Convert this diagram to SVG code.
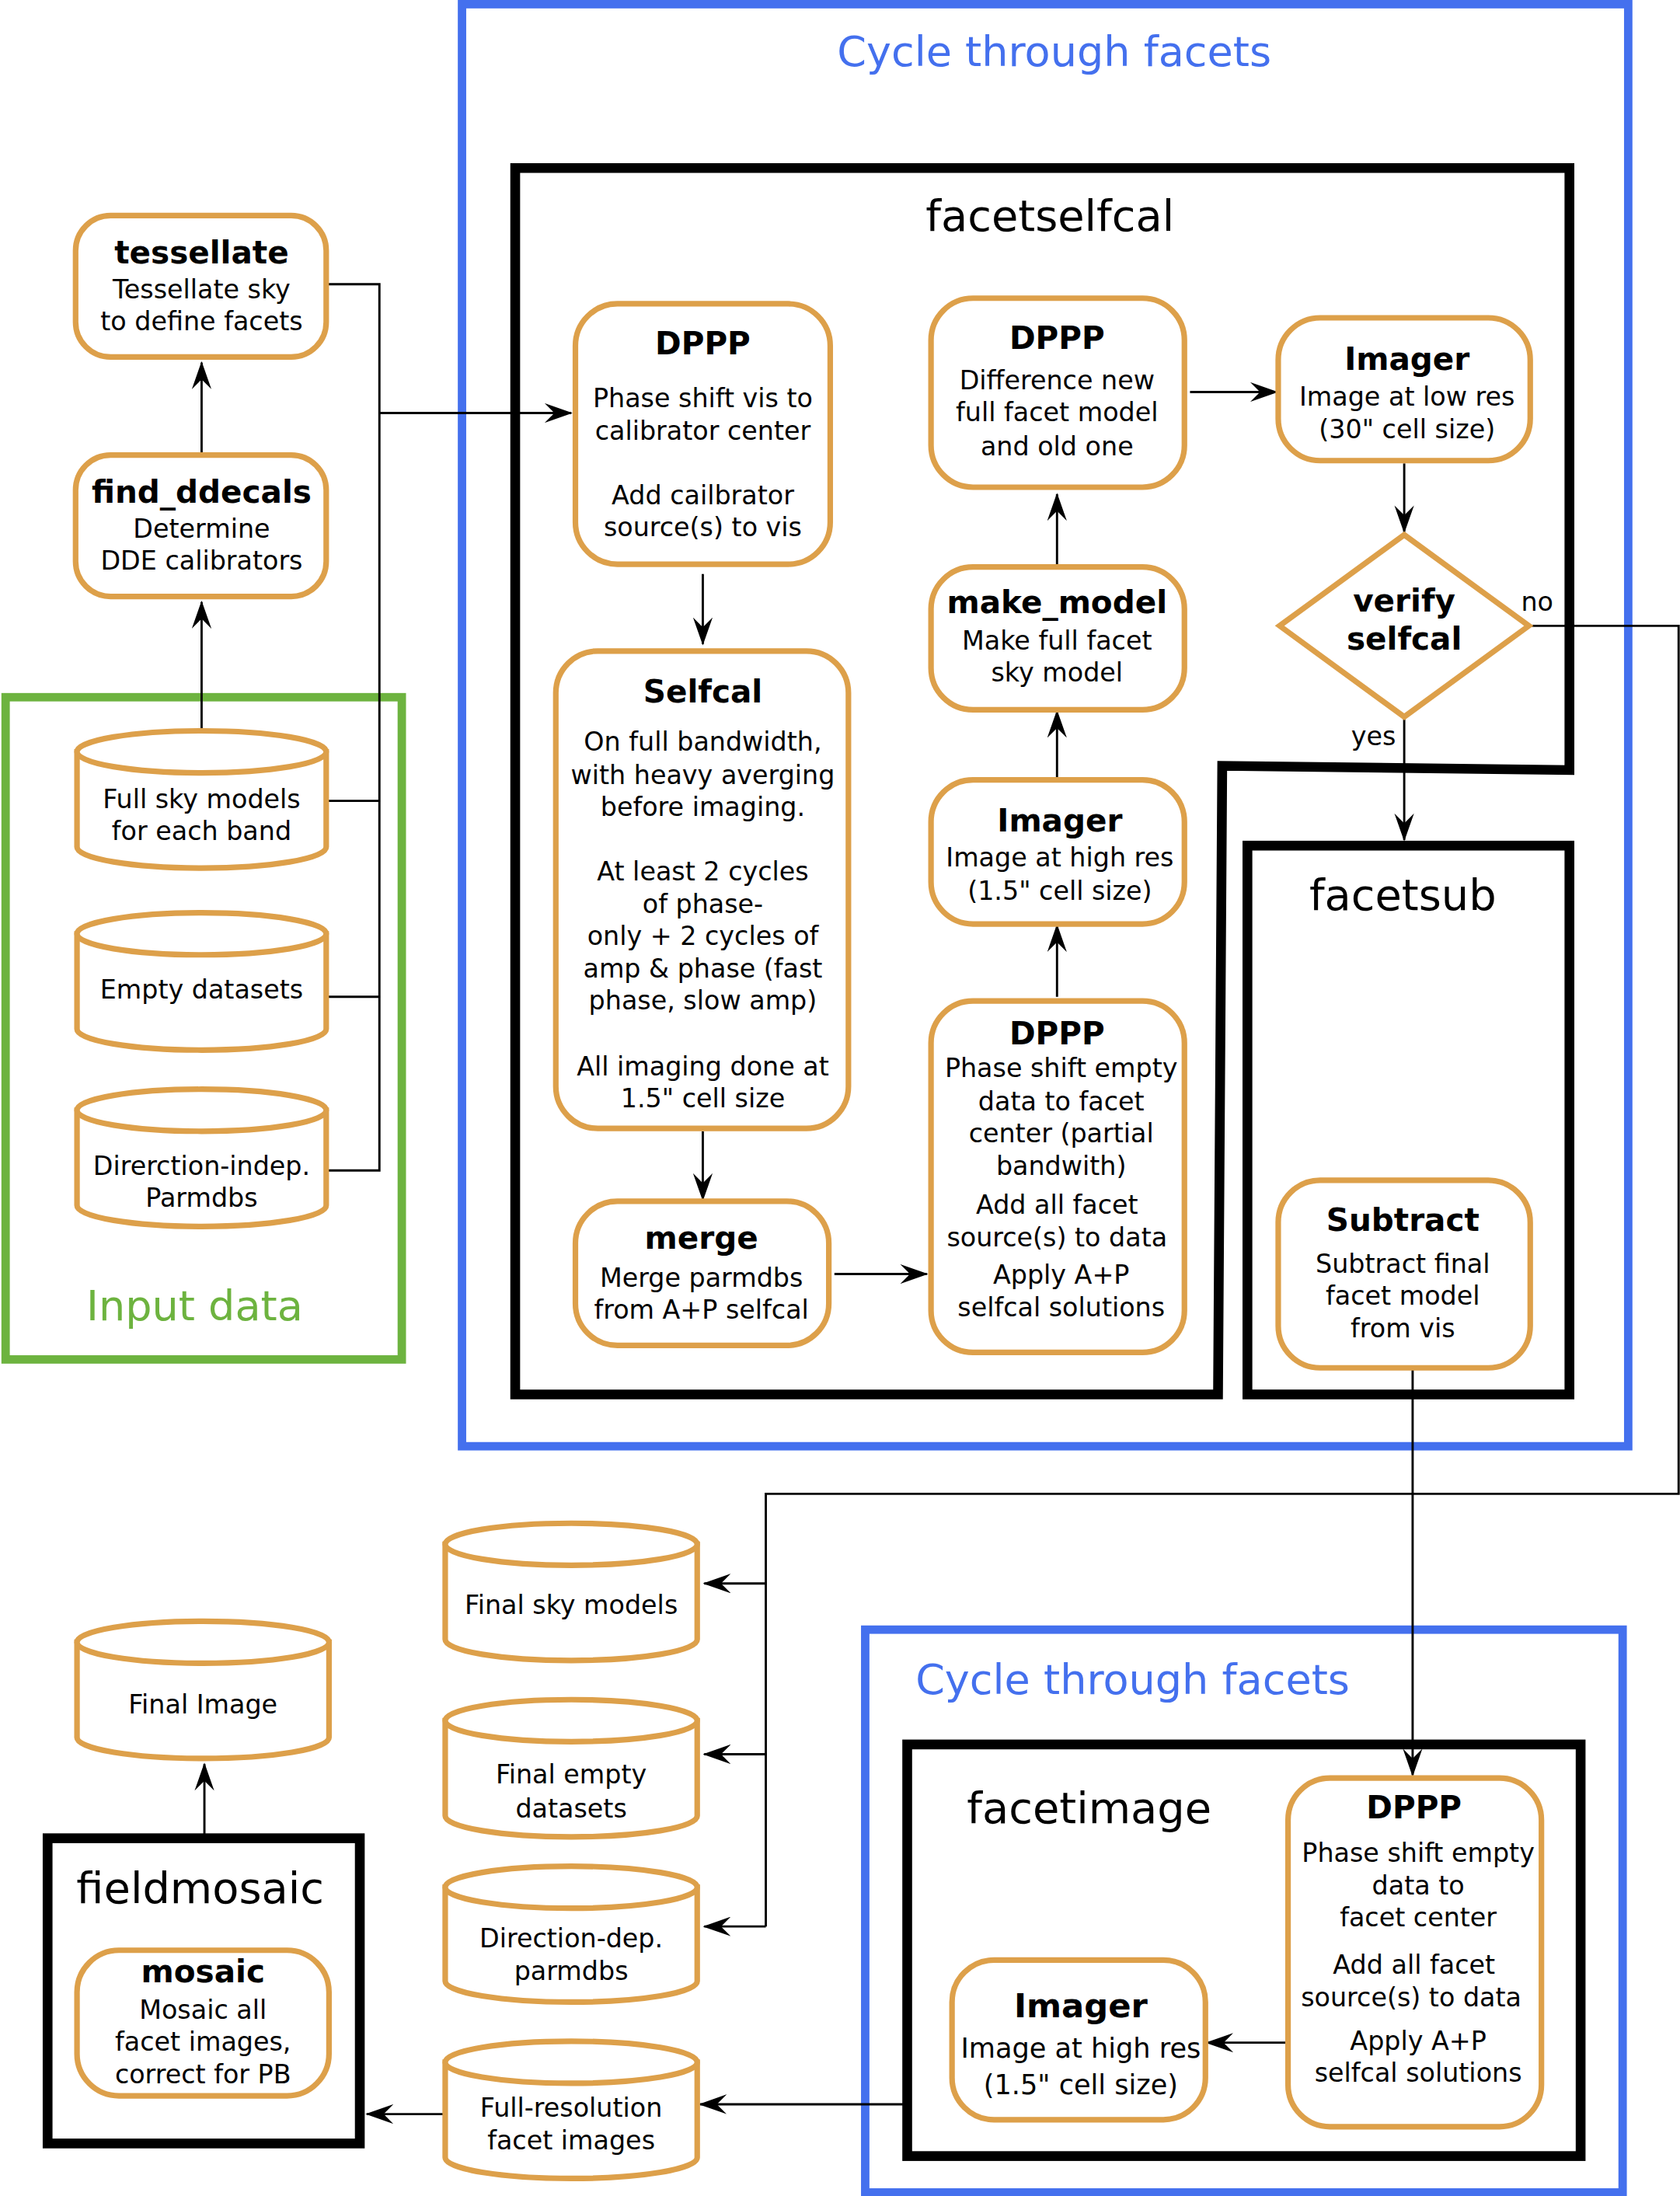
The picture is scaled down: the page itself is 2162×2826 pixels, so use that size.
<svg xmlns="http://www.w3.org/2000/svg" width="2162" height="2826" viewBox="0 0 2162 2826">
<defs>
<style>
text{font-family:"DejaVu Sans","Liberation Sans",sans-serif;text-anchor:middle;fill:#000}
.b{font-size:18.5px}
.t{font-size:22.5px;font-weight:bold}
.n{fill:#fff;stroke:#DDA04A;stroke-width:4}
.k{fill:none;stroke:#000;stroke-width:7}
.bl{fill:none;stroke:#4470EE;stroke-width:6}
.l{fill:none;stroke:#000;stroke-width:1.6}
.a{fill:none;stroke:#000;stroke-width:1.6;marker-end:url(#ar)}
.h{font-size:31px}
</style>
<marker id="ar" viewBox="0 0 20 14" refX="19" refY="7" markerWidth="20" markerHeight="14" markerUnits="userSpaceOnUse" orient="auto"><path d="M0,0 L20,7 L0,14 L7,7 z" fill="#000"/></marker>
</defs>
<rect width="2162" height="2826" fill="#fff"/>
<g transform="scale(1.8017)">
<g id="frames">
<rect class="bl" x="330" y="3" width="833" height="1030"/>
<text x="753" y="47" style="font-size:30px;fill:#4470EE">Cycle through facets</text>
<path class="k" d="M368,120 L1121,120 L1121,550 L873,547 L870,996 L368,996 Z"/>
<text x="750" y="165" class="h">facetselfcal</text>
<rect class="k" x="891" y="604" width="230" height="392"/>
<text x="1002" y="650" class="h">facetsub</text>
<rect x="4" y="498" width="283" height="473" fill="none" stroke="#6DB33F" stroke-width="6"/>
<text x="139" y="943" style="font-size:30px;fill:#6DB33F">Input data</text>
<rect class="bl" x="618" y="1164" width="541" height="402"/>
<text x="809" y="1210" style="font-size:30px;fill:#4470EE">Cycle through facets</text>
<rect class="k" x="648" y="1246" width="481" height="294"/>
<text x="778" y="1302" class="h">facetimage</text>
<rect class="k" x="34" y="1313" width="223" height="218"/>
<text x="143" y="1359" class="h">fieldmosaic</text>
</g>
<g id="connectors">
<path class="l" d="M233,203 H271 V836 H233 M233,572 H271 M233,712 H271"/>
<path class="a" d="M271,295 H408"/>
<path class="a" d="M144,522 V430"/>
<path class="a" d="M144,325 V259"/>
<path class="a" d="M502,410 V460"/>
<path class="a" d="M502,808 V857"/>
<path class="a" d="M596,910 H662"/>
<path class="a" d="M755,712 V661"/>
<path class="a" d="M755,557 V508"/>
<path class="a" d="M755,405 V353"/>
<path class="a" d="M850,280 H912"/>
<path class="a" d="M1003,331 V380"/>
<path class="a" d="M1003,512 V600"/>
<path class="l" d="M1092,447 H1199 V1067 H547 V1376"/>
<path class="a" d="M547,1131 H503"/>
<path class="a" d="M547,1253 H503"/>
<path class="a" d="M547,1376 H503"/>
<path class="a" d="M1009,977 V1268"/>
<path class="a" d="M920,1459 H862"/>
<path class="a" d="M648,1503 H500"/>
<path class="a" d="M318,1510 H262"/>
<path class="a" d="M146,1310 V1260"/>
<text x="1098" y="436" class="b">no</text>
<text x="981" y="532" class="b">yes</text>
</g>
<g id="tessellate"><rect class="n" x="54" y="154" width="179" height="101" rx="25"/><text x="144" y="188" class="t">tessellate</text><text x="144" y="213" class="b">Tessellate sky</text><text x="144" y="236" class="b">to define facets</text></g>
<g id="find_ddecals"><rect class="n" x="54" y="325" width="179" height="101" rx="25"/><text x="144" y="359" class="t">find_ddecals</text><text x="144" y="384" class="b">Determine</text><text x="144" y="407" class="b">DDE calibrators</text></g>
<g id="cyl1"><path class="n" d="M55,537 V605 A89,15 0 0 0 233,605 V537 Z"/><ellipse class="n" cx="144" cy="537" rx="89" ry="15"/><text x="144" y="577" class="b">Full sky models</text><text x="144" y="600" class="b">for each band</text></g>
<g id="cyl2"><path class="n" d="M55,667 V735 A89,15 0 0 0 233,735 V667 Z"/><ellipse class="n" cx="144" cy="667" rx="89" ry="15"/><text x="144" y="713" class="b">Empty datasets</text></g>
<g id="cyl3"><path class="n" d="M55,793 V861 A89,15 0 0 0 233,861 V793 Z"/><ellipse class="n" cx="144" cy="793" rx="89" ry="15"/><text x="144" y="839" class="b">Direrction-indep.</text><text x="144" y="862" class="b">Parmdbs</text></g>
<g id="dppp1"><rect class="n" x="411" y="217" width="182" height="186" rx="30"/><text x="502" y="253" class="t">DPPP</text><text x="502" y="291" class="b">Phase shift vis to</text><text x="502" y="314" class="b">calibrator center</text><text x="502" y="360" class="b">Add cailbrator</text><text x="502" y="383" class="b">source(s) to vis</text></g>
<g id="selfcal"><rect class="n" x="397" y="465" width="209" height="341" rx="30"/><text x="502" y="502" class="t">Selfcal</text><text x="502" y="536" class="b">On full bandwidth,</text><text x="502" y="560" class="b">with heavy averging</text><text x="502" y="583" class="b">before imaging.</text><text x="502" y="629" class="b">At least 2 cycles</text><text x="502" y="652" class="b">of phase-</text><text x="502" y="675" class="b">only + 2 cycles of</text><text x="502" y="698" class="b">amp &amp; phase (fast</text><text x="502" y="721" class="b">phase, slow amp)</text><text x="502" y="768" class="b">All imaging done at</text><text x="502" y="791" class="b">1.5" cell size</text></g>
<g id="merge"><rect class="n" x="411" y="858" width="181" height="103" rx="30"/><text x="501" y="892" class="t">merge</text><text x="501" y="919" class="b">Merge parmdbs</text><text x="501" y="942" class="b">from A+P selfcal</text></g>
<g id="dppp2"><rect class="n" x="665" y="715" width="181" height="251" rx="30"/><text x="755" y="746" class="t">DPPP</text><text x="758" y="769" class="b">Phase shift empty</text><text x="758" y="793" class="b">data to facet</text><text x="758" y="816" class="b">center (partial</text><text x="758" y="839" class="b">bandwith)</text><text x="755" y="867" class="b">Add all facet</text><text x="755" y="890" class="b">source(s) to data</text><text x="758" y="917" class="b">Apply A+P</text><text x="758" y="940" class="b">selfcal solutions</text></g>
<g id="imager_high"><rect class="n" x="665" y="557" width="181" height="103" rx="30"/><text x="757" y="594" class="t">Imager</text><text x="757" y="619" class="b">Image at high res</text><text x="757" y="643" class="b">(1.5" cell size)</text></g>
<g id="make_model"><rect class="n" x="665" y="405" width="181" height="102" rx="30"/><text x="755" y="438" class="t">make_model</text><text x="755" y="464" class="b">Make full facet</text><text x="755" y="487" class="b">sky model</text></g>
<g id="dppp3"><rect class="n" x="665" y="213" width="181" height="135" rx="30"/><text x="755" y="249" class="t">DPPP</text><text x="755" y="278" class="b">Difference new</text><text x="755" y="301" class="b">full facet model</text><text x="755" y="325" class="b">and old one</text></g>
<g id="imager_low"><rect class="n" x="913" y="227" width="180" height="102" rx="30"/><text x="1005" y="264" class="t">Imager</text><text x="1005" y="290" class="b">Image at low res</text><text x="1005" y="313" class="b">(30" cell size)</text></g>
<g id="verify"><path class="n" d="M1003,382 L1092,447 L1003,512 L914,447 Z"/><text x="1003" y="437" class="t">verify</text><text x="1003" y="464" class="t">selfcal</text></g>
<g id="subtract"><rect class="n" x="913" y="843" width="180" height="134" rx="30"/><text x="1002" y="879" class="t">Subtract</text><text x="1002" y="909" class="b">Subtract final</text><text x="1002" y="932" class="b">facet model</text><text x="1002" y="955" class="b">from vis</text></g>
<g id="dppp4"><rect class="n" x="920" y="1270" width="181" height="249" rx="30"/><text x="1010" y="1299" class="t">DPPP</text><text x="1013" y="1330" class="b">Phase shift empty</text><text x="1013" y="1353" class="b">data to</text><text x="1013" y="1376" class="b">facet center</text><text x="1010" y="1410" class="b">Add all facet</text><text x="1008" y="1433" class="b">source(s) to data</text><text x="1013" y="1464" class="b">Apply A+P</text><text x="1013" y="1487" class="b">selfcal solutions</text></g>
<g id="imager_final"><rect class="n" x="680" y="1400" width="181" height="114" rx="30"/><text x="772" y="1441" style="font-size:24px;font-weight:bold">Imager</text><text x="772" y="1470" style="font-size:19.5px">Image at high res</text><text x="772" y="1496" style="font-size:19.5px">(1.5" cell size)</text></g>
<g id="final_sky"><path class="n" d="M318,1103 V1171 A90,15 0 0 0 498,1171 V1103 Z"/><ellipse class="n" cx="408" cy="1103" rx="90" ry="15"/><text x="408" y="1153" class="b">Final sky models</text></g>
<g id="final_empty"><path class="n" d="M318,1229 V1297 A90,15 0 0 0 498,1297 V1229 Z"/><ellipse class="n" cx="408" cy="1229" rx="90" ry="15"/><text x="408" y="1274" class="b">Final empty</text><text x="408" y="1298" class="b">datasets</text></g>
<g id="dd_parmdbs"><path class="n" d="M318,1348 V1415 A90,15 0 0 0 498,1415 V1348 Z"/><ellipse class="n" cx="408" cy="1348" rx="90" ry="15"/><text x="408" y="1391" class="b">Direction-dep.</text><text x="408" y="1414" class="b">parmdbs</text></g>
<g id="full_res"><path class="n" d="M318,1473 V1541 A90,15 0 0 0 498,1541 V1473 Z"/><ellipse class="n" cx="408" cy="1473" rx="90" ry="15"/><text x="408" y="1512" class="b">Full-resolution</text><text x="408" y="1535" class="b">facet images</text></g>
<g id="final_image"><path class="n" d="M55,1173 V1241 A90,15 0 0 0 235,1241 V1173 Z"/><ellipse class="n" cx="145" cy="1173" rx="90" ry="15"/><text x="145" y="1224" class="b">Final Image</text></g>
<g id="mosaic"><rect class="n" x="55" y="1393" width="180" height="104" rx="30"/><text x="145" y="1416" class="t">mosaic</text><text x="145" y="1442" class="b">Mosaic all</text><text x="145" y="1465" class="b">facet images,</text><text x="145" y="1488" class="b">correct for PB</text></g>
</g>
</svg>
